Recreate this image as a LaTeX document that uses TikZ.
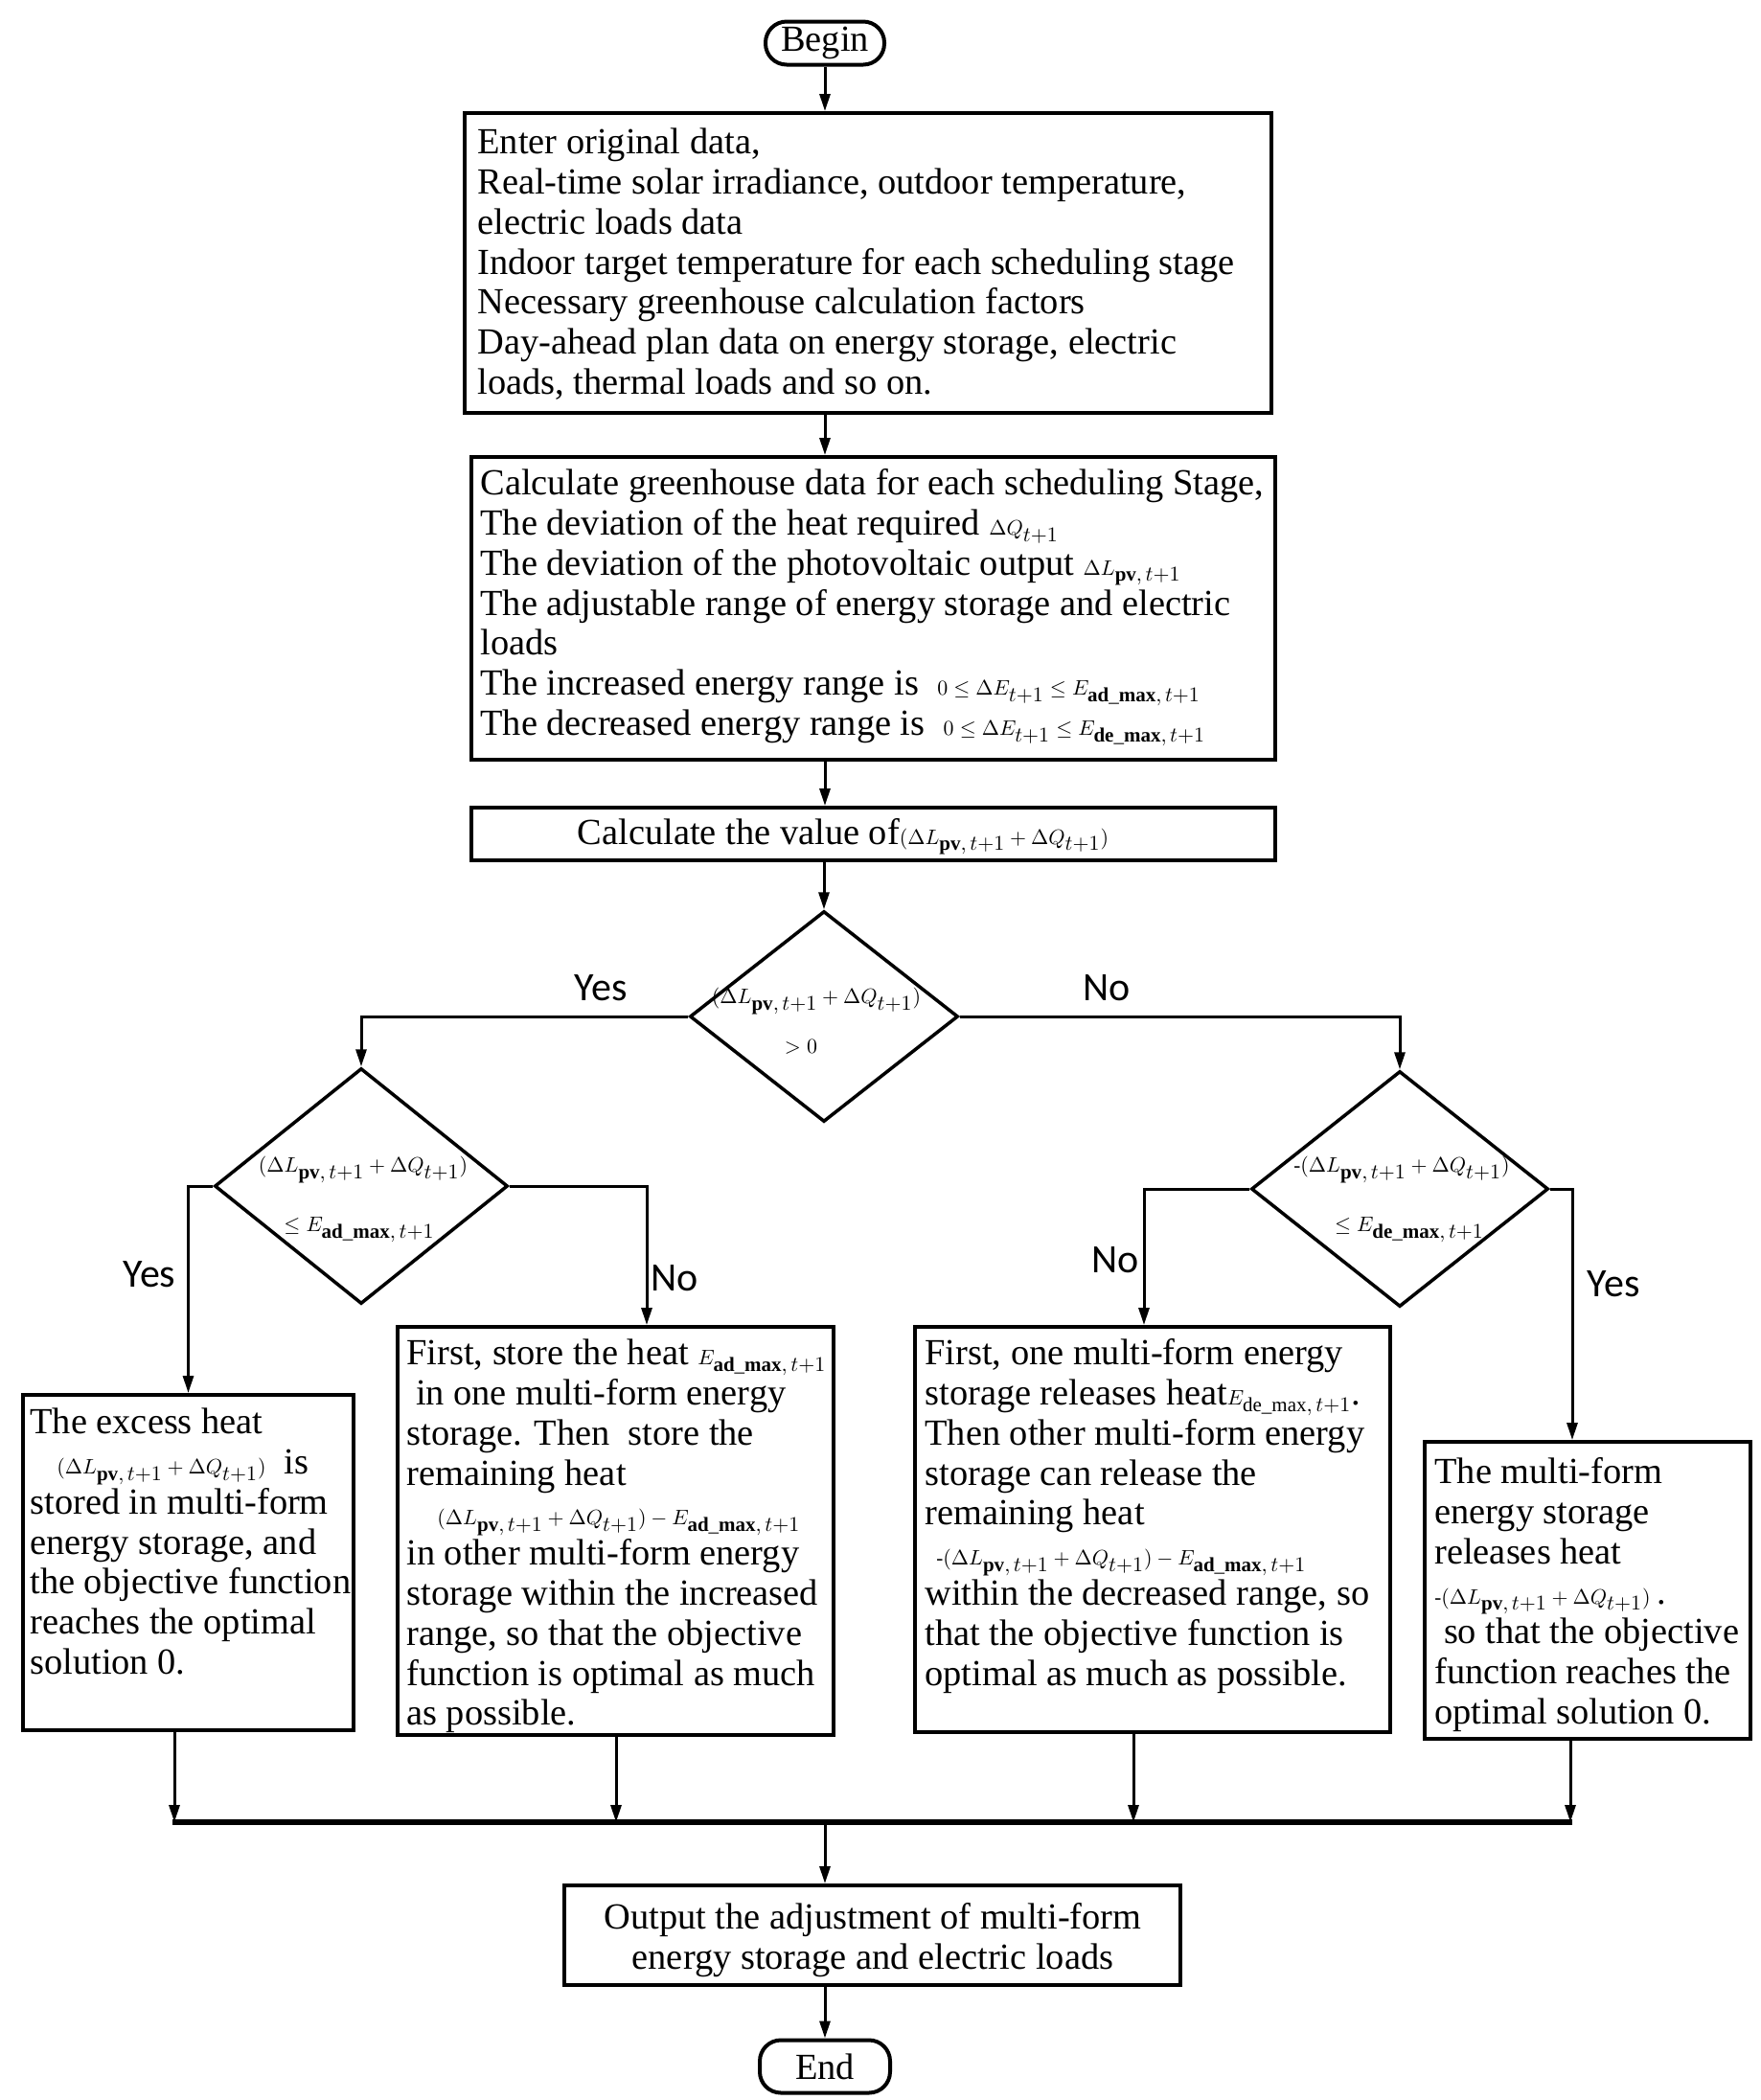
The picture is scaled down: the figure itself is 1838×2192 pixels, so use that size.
\documentclass[tikz,border=0pt]{standalone}
\usepackage{fontspec}
\setmainfont{Liberation Serif}
\newfontfamily\lblfont{Carlito}
\usetikzlibrary{shapes.geometric,arrows.meta}
\newcommand{\fm}[1]{{\fontsize{10.5}{12}\selectfont$#1$}}
\newcommand{\myL}{\Delta L_{\textstyle\mathbf{pv},t{+}1}}
\newcommand{\myQ}{\Delta Q_{\textstyle t{+}1}}
\newcommand{\myEad}{E_{\textstyle\mathbf{ad\_max},t{+}1}}
\newcommand{\myEde}{E_{\textstyle\mathbf{de\_max},t{+}1}}
\begin{document}
\begin{tikzpicture}[x=0.5pt,y=-0.5pt,
 box/.style={draw, line width=2pt, fill=white, inner sep=0pt},
 dia/.style={draw, diamond, line width=1.75pt, inner sep=0pt},
 term/.style={draw, line width=2pt, rounded corners=11pt, inner sep=0pt, font=\fontsize{19.2}{20.9}\selectfont},
 txt/.style={font=\fontsize{19.2}{20.9}\selectfont, inner sep=0pt, align=left, anchor=north west},
 ftxt/.style={inner sep=0pt},
 lbl/.style={font=\lblfont\fontsize{21}{24}\selectfont, inner sep=0pt},
 conn/.style={line width=1.5pt, -{Triangle[length=9pt,width=5.5pt]}},
 merge/.style={line width=2.8pt}]
\useasboundingbox (0,0) rectangle (1838,2192);

% terminals
\node[term, minimum width=62pt, minimum height=22.5pt] (begin) at (861,45) {Begin};
\node[term, minimum width=68pt, minimum height=27.5pt] (end) at (861,2157) {End};

% boxes
\node[box, minimum width=421pt, minimum height=156.5pt] (b1) at (906,274.5) {};
\node[box, minimum width=419.5pt, minimum height=158pt] (b2) at (911.5,635) {};
\node[box, minimum width=419.5pt, minimum height=27.5pt] (b3) at (911.5,870.5) {};
\node[box, minimum width=172.5pt, minimum height=175pt] (bA) at (196.5,1631) {};
\node[box, minimum width=227.5pt, minimum height=213pt] (bB) at (642.5,1598) {};
\node[box, minimum width=248pt, minimum height=211.5pt] (bC) at (1203,1596.5) {};
\node[box, minimum width=170pt, minimum height=155pt] (bD) at (1657,1660) {};
\node[box, minimum width=321.5pt, minimum height=52pt] (out) at (910.5,2020) {};

% diamonds
\node[dia, minimum width=140pt, minimum height=110pt] (md) at (860,1061) {};
\node[dia, minimum width=153pt, minimum height=123pt] (ld) at (377,1238) {};
\node[dia, minimum width=155pt, minimum height=123pt] (rd) at (1461,1241) {};

% box texts
\node[txt] (t1) at (498,131) {\strut Enter original data,\\
Real-time solar irradiance, outdoor temperature,\\
electric loads data\\
Indoor target temperature for each scheduling stage\\
Necessary greenhouse calculation factors\\
Day-ahead plan data on energy storage, electric\\
loads, thermal loads and so on.};

\node[txt] (t2) at (501,487) {\strut Calculate greenhouse data for each scheduling Stage,\\
The deviation of the heat required \fm{\myQ}\\
The deviation of the photovoltaic output \fm{\myL}\\
The adjustable range of energy storage and electric\\
loads\\
The increased energy range is\ \ \fm{0\le\Delta E_{\textstyle t{+}1}\le\myEad}\\
The decreased energy range is\ \ \fm{0\le\Delta E_{\textstyle t{+}1}\le\myEde}};

\node[txt, anchor=base] (t3) at (880,881) {Calculate the value of\fm{(\myL+\myQ)}};

\node[txt] (tA) at (31,1467) {\strut The excess heat\\
\hspace*{14pt}\fm{(\myL+\myQ)}\ \ is\\
stored in multi-form\\
energy storage, and\\
the objective function\\
reaches the optimal\\
solution 0.};

\node[txt] (tB) at (424,1395) {\strut First, store the heat \fm{\myEad}\\
\ in one multi-form energy\\
storage. Then\ \ store the\\
remaining heat\\
\hspace*{16pt}\fm{(\myL+\myQ)-\myEad}\\
in other multi-form energy\\
storage within the increased\\
range, so that the objective\\
function is optimal as much\\
as possible.};

\node[txt] (tC) at (965,1395) {\strut First, one multi-form energy\\
storage releases heat\fm{E_{\textstyle\mathrm{de\_max},t{+}1}}.\\
Then other multi-form energy\\
storage can release the\\
remaining heat\\
\hspace*{6pt}\fm{\mbox{-}(\myL+\myQ)-\myEad}\\
within the decreased range, so\\
that the objective function is\\
optimal as much as possible.};

\node[txt] (tD) at (1497,1519) {\strut The multi-form\\
energy storage\\
releases heat\\
\fm{\mbox{-}(\myL+\myQ)}\,.\\
\ so that the objective\\
function reaches the\\
optimal solution 0.};

\node[txt, anchor=north, align=center] (tO) at (911,1984) {\strut Output the adjustment of multi-form\\
energy storage and electric loads};

% diamond texts
\node[ftxt] (md1) at (852,1045) {\fm{(\myL+\myQ)}};
\node[ftxt] (md2) at (836,1093) {\fm{>0}};
\node[ftxt] (ld1) at (379,1221) {\fm{(\myL+\myQ)}};
\node[ftxt] (ld2) at (375,1284) {\fm{\le\myEad}};
\node[ftxt] (rd1) at (1463,1221) {\fm{\mbox{-}(\myL+\myQ)}};
\node[ftxt] (rd2) at (1471,1284) {\fm{\le\myEde}};

% labels
\node[lbl] (yes1) at (627,1031) {Yes};
\node[lbl] (no1) at (1155,1031) {No};
\node[lbl] (yes2) at (156,1330) {Yes};
\node[lbl] (no2) at (704,1334) {No};
\node[lbl] (no3) at (1164,1315) {No};
\node[lbl] (yes3) at (1684,1340) {Yes};

% helper coordinates
\coordinate (xM) at (861,0);
\coordinate (xB) at (675,0);
\coordinate (xC) at (1194,0);
\coordinate (xD) at (1641,0);
\coordinate (m1) at (182,1902);
\coordinate (m2) at (643,1902);
\coordinate (m3) at (1183,1902);
\coordinate (m4) at (1639,1902);
\coordinate (mL) at (180,1902);
\coordinate (mR) at (1641,1902);
\coordinate (mc) at (861,1902);

% connectors
\draw[conn] (begin) -- (b1.north -| begin);
\draw[conn] (b1.south -| xM) -- (b2.north -| xM);
\draw[conn] (b2.south -| xM) -- (b3.north -| xM);
\draw[conn] (b3.south -| md.north) -- (md.north);
\draw[conn] (md.west) -| (ld.north);
\draw[conn] (md.east) -| (rd.north);
\draw[conn] (ld.west) -| (bA.north);
\draw[conn] (ld.east) -| (bB.north -| xB);
\draw[conn] (rd.west) -| (bC.north -| xC);
\draw[conn] (rd.east) -| (bD.north -| xD);

\draw[merge] (mL) -- (mR);
\draw[conn] (bA.south -| m1) -- (m1);
\draw[conn] (bB.south -| m2) -- (m2);
\draw[conn] (bC.south -| m3) -- (m3);
\draw[conn] (bD.south -| m4) -- (m4);
\draw[conn] (mc) -- (out.north -| mc);
\draw[conn] (out.south -| end) -- (end);
\end{tikzpicture}
\end{document}
